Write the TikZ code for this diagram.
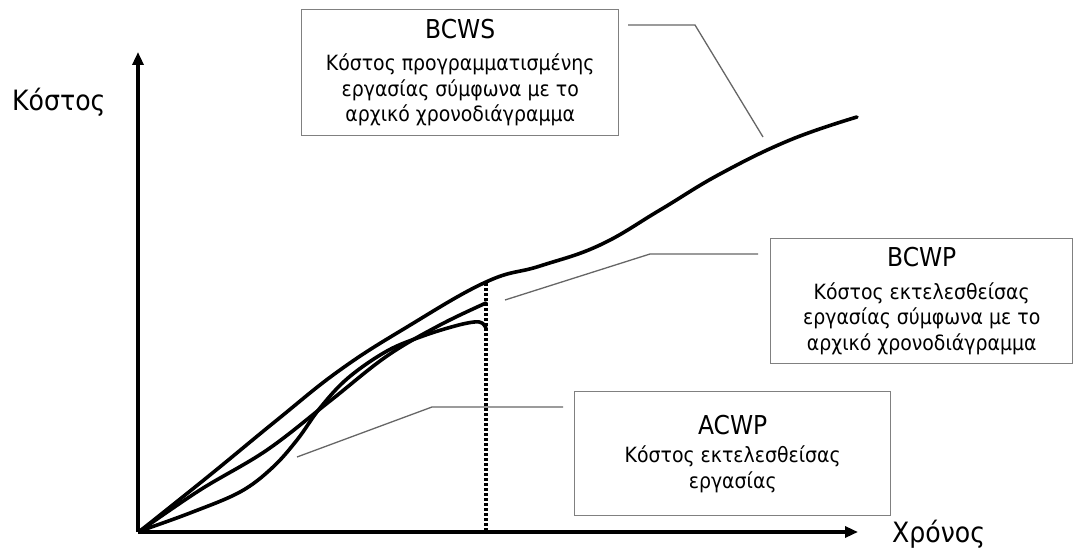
\documentclass[tikz,border=0pt]{standalone}
\usepackage{fontspec}
\setmainfont{DejaVu Sans}[FakeStretch=0.9]
\usetikzlibrary{arrows.meta}
\begin{document}
\begin{tikzpicture}[x=1pt,y=-1pt,
  curve/.style={line width=3.6pt,line cap=round,line join=round},
  axis/.style={line width=3.2pt,-{Triangle[length=13pt,width=11pt]}},
  infobox/.style={draw=black!50,line width=1.4pt,fill=white,align=center,
    anchor=north west,inner sep=0pt,font=\fontsize{21}{25.5}\selectfont},
  leader/.style={draw=black!60,line width=1.3pt},
  axislabel/.style={font=\fontsize{28}{32}\selectfont,inner sep=0pt}]
\useasboundingbox (0,0) rectangle (1075,553);

% axes
\coordinate (o) at (138,532);
\coordinate (ytip) at (138,52);
\coordinate (xtip) at (858,532);
\draw[axis] (o) -- (ytip);
\draw[axis] (o) -- (xtip);
\node[axislabel,anchor=west] (ylab) at (12,102) {Κόστος};
\node[axislabel,anchor=west] (xlab) at (892,534) {Χρόνος};

% boxes
\node[infobox,minimum width=317pt,minimum height=126pt] (bcws) at (301,9)
  {{\fontsize{26}{28}\selectfont BCWS}\\[7pt]
   Κόστος προγραμματισμένης\\ εργασίας σύμφωνα με το\\ αρχικό χρονοδιάγραμμα};
\node[infobox,minimum width=302pt,minimum height=125pt] (bcwp) at (770,238)
  {{\fontsize{26}{28}\selectfont BCWP}\\[7pt]
   Κόστος εκτελεσθείσας\\ εργασίας σύμφωνα με το\\ αρχικό χρονοδιάγραμμα};
\node[infobox,minimum width=316pt,minimum height=124pt] (acwp) at (574,391)
  {{\fontsize{26}{28}\selectfont ACWP}\\[3pt]
   Κόστος εκτελεσθείσας\\ εργασίας};

% leader lines
\coordinate (bcwsA) at (628,25);
\coordinate (bcwsB) at (695,25);
\coordinate (bcwsC) at (763,137);
\draw[leader] (bcwsA) -- (bcwsB) -- (bcwsC);
\coordinate (bcwpA) at (758,254);
\coordinate (bcwpB) at (650,254);
\coordinate (bcwpC) at (505,300);
\draw[leader] (bcwpA) -- (bcwpB) -- (bcwpC);
\coordinate (acwpA) at (563,407);
\coordinate (acwpB) at (432,407);
\coordinate (acwpC) at (297,457);
\draw[leader] (acwpA) -- (acwpB) -- (acwpC);

% status date
\coordinate (dtop) at (486,283);
\coordinate (dbot) at (486,530);
\draw[line width=3.6pt,dash pattern=on 3pt off 2pt] (dtop) -- (dbot);

% BCWS
\draw[curve] plot[smooth,tension=0.7] coordinates {
  (140,531) (210,475) (277,420) (340,370) (407,327) (486,282)
  (540,266) (600,245) (660,210) (720,174) (790,140) (857,117)};
% BCWP
\draw[curve] plot[smooth,tension=0.6] coordinates {
  (140,531) (200,490) (267,450) (330,401) (387,356) (440,325) (486,303)};
% ACWP
\draw[curve] plot[smooth,tension=0.6] coordinates {
  (140,531) (190,513) (240,492) (272,468) (297,440) (320,408) (348,378)
  (387,351) (423,336) (455,326) (474,322) (482,323) (486,328)};
\end{tikzpicture}
\end{document}
